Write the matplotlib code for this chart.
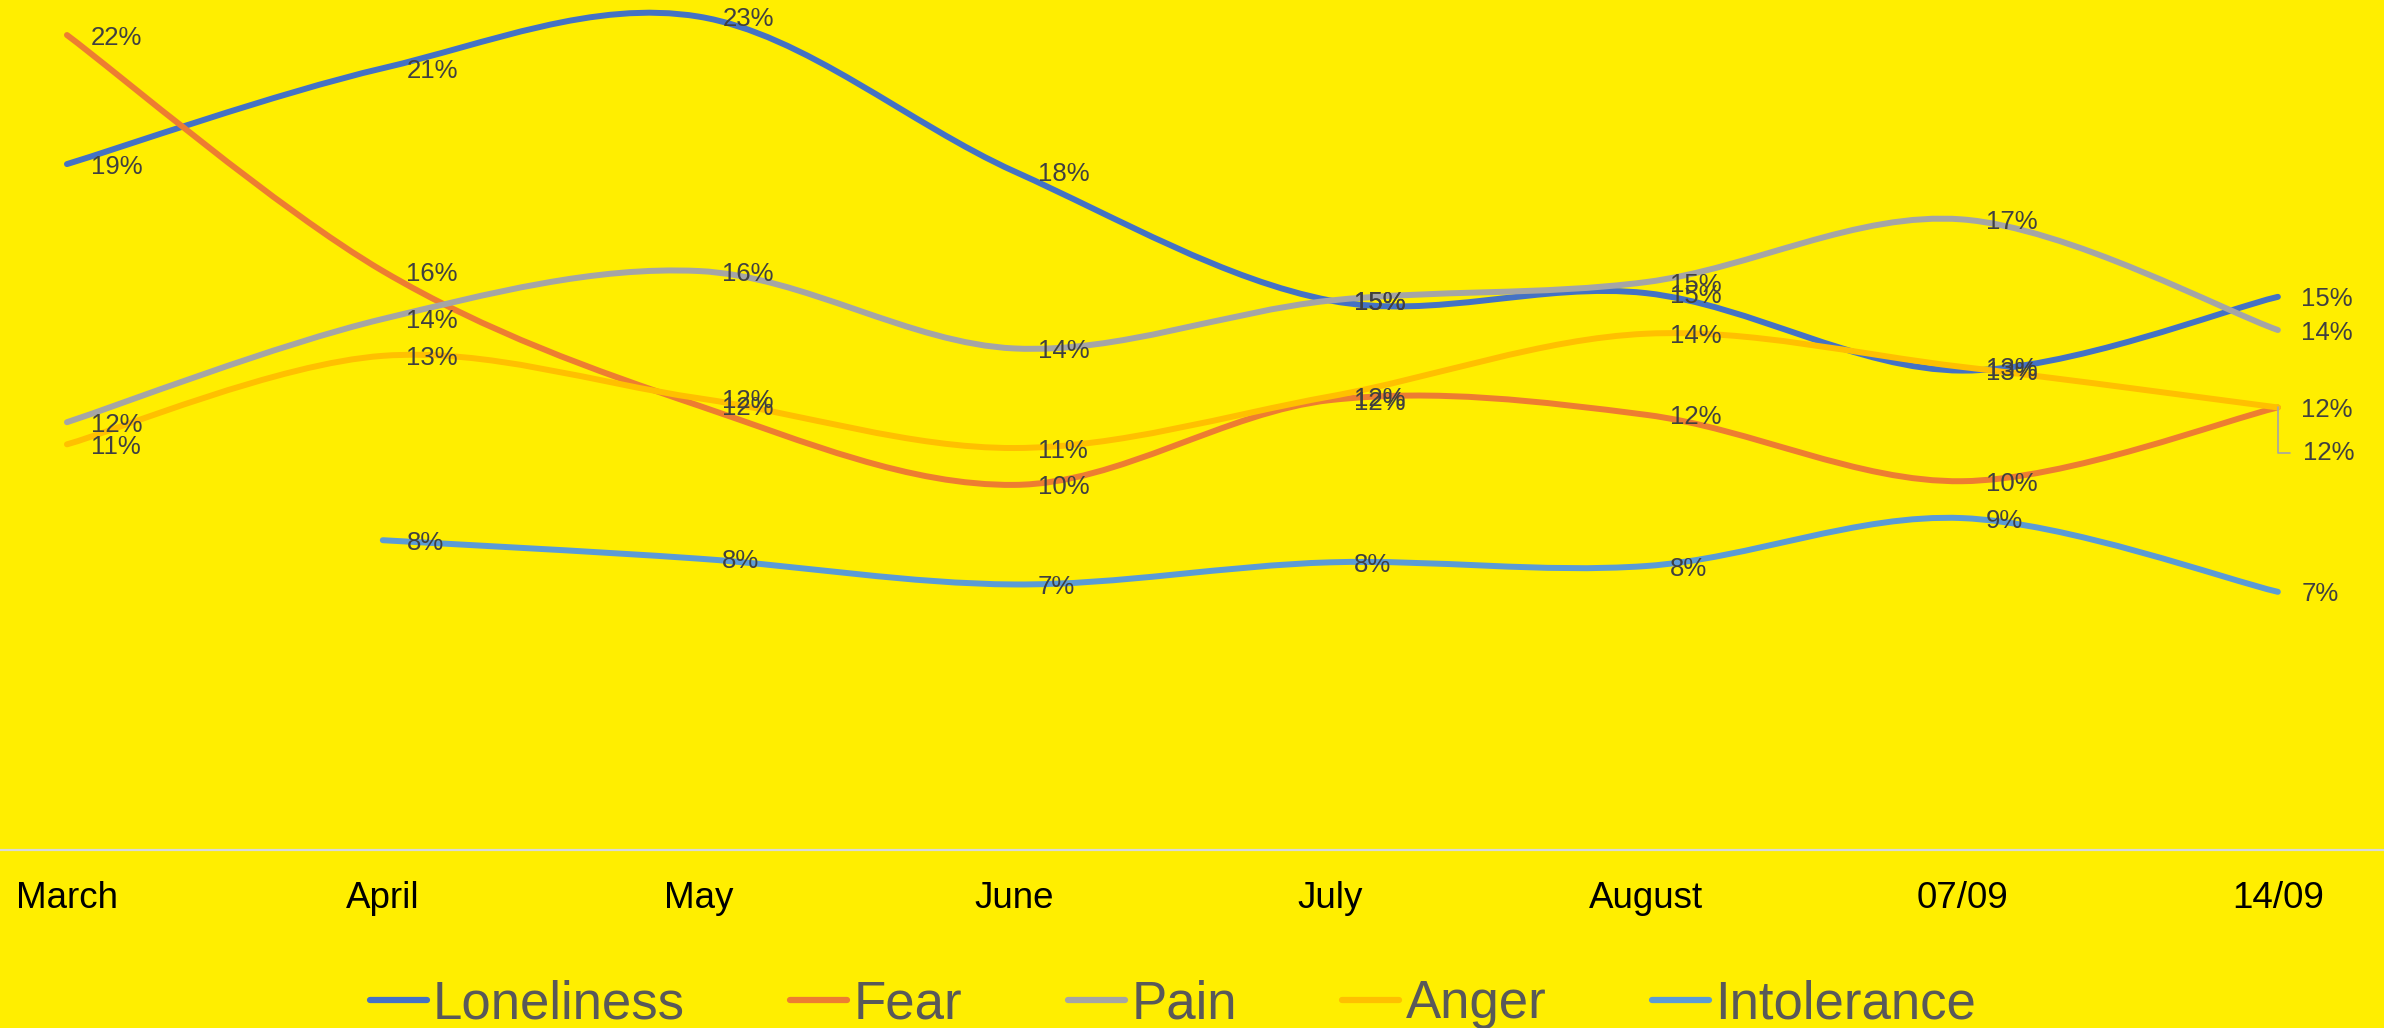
import numpy as np
import matplotlib
matplotlib.use("Agg")
import matplotlib.pyplot as plt
from matplotlib.path import Path
from matplotlib.patches import PathPatch
from matplotlib.lines import Line2D

plt.rcParams['font.family'] = ['Liberation Sans', 'DejaVu Sans']

# data (share of mentions, %)
months = ["March", "April", "May", "June", "July", "August", "07/09", "14/09"]
loneliness = [18.6, 21.2, 22.6, 18.4, 14.9, 15.1, 13.0, 15.0]
fear = [22.1, 15.7, 12.05, 9.9, 12.2, 11.8, 10.0, 12.0]
pain = [11.6, 14.4, 15.7, 13.6, 14.9, 15.4, 17.1, 14.1]
anger = [11.0, 13.4, 12.25, 10.9, 12.3, 14.0, 13.1, 12.0]
intolerance = [np.nan, 8.4, 7.9, 7.2, 7.8, 7.7, 9.0, 7.0]

names = ["Loneliness", "Fear", "Pain", "Anger", "Intolerance"]
series = [loneliness, fear, pain, anger, intolerance]
colors = ["#4472C4", "#ED7D31", "#A5A5A5", "#FFC000", "#5B9BD5"]

BG = "#FFEE00"
LABEL_COLOR = "#404040"


def smooth_path(xs, ys):
    """Excel-like smoothed line: cubic bezier through the points."""
    pts = [np.array([x, y]) for x, y in zip(xs, ys) if not np.isnan(y)]
    n = len(pts)
    verts = [pts[0]]
    codes = [Path.MOVETO]
    for i in range(n - 1):
        p0 = pts[i - 1] if i > 0 else pts[i]
        p1 = pts[i]
        p2 = pts[i + 1]
        p3 = pts[i + 2] if i + 2 < n else pts[i + 1]
        c1 = p1 + (p2 - p0) / 6.0
        c2 = p2 - (p3 - p1) / 6.0
        verts += [c1, c2, p2]
        codes += [Path.CURVE4] * 3
    return Path(verts, codes)


fig = plt.figure(figsize=(23.84, 10.28), dpi=100, facecolor=BG)
ax = fig.add_axes([0, 0.1732, 1, 0.8268])
ax.set_facecolor(BG)

x = np.arange(len(months))
for vals, name, col in zip(series, names, colors):
    patch = PathPatch(smooth_path(x, vals), fill=False, edgecolor=col,
                      lw=4.3, capstyle='round', joinstyle='round', clip_on=False)
    ax.add_patch(patch)

# data labels
for k, (vals, col) in enumerate(zip(series, colors)):
    for i, v in enumerate(vals):
        if np.isnan(v):
            continue
        txt = f"{round(v):d}%"
        if k == 1 and i == len(vals) - 1:
            # label pushed down with a leader line
            ax.annotate(txt, (i, v), xytext=(18, -31), textcoords='offset points',
                        ha='left', va='center_baseline', fontsize=18.5, color=LABEL_COLOR,
                        arrowprops=dict(arrowstyle='-', color='#A5A5A5', lw=1.2,
                                        connectionstyle='angle,angleA=0,angleB=90,rad=0',
                                        shrinkA=7, shrinkB=0, relpos=(0, 0.5)))
        else:
            ax.annotate(txt, (i, v), xytext=(17, 0), textcoords='offset points',
                        ha='left', va='center_baseline', fontsize=18.5, color=LABEL_COLOR)

ax.set_xlim(-0.212, 7.336)
ax.set_ylim(0, 23.05)
ax.set_xticks(x)
ax.set_xticklabels(months, fontsize=26.5, color='black')
ax.tick_params(axis='x', length=0, pad=22)
ax.set_yticks([])
for s in ['top', 'left', 'right']:
    ax.spines[s].set_visible(False)
ax.spines['bottom'].set_color('#D9D9D9')
ax.spines['bottom'].set_linewidth(1.6)

handles = [Line2D([0], [0], color=c, lw=4.5, solid_capstyle='round') for c in colors]
leg = fig.legend(handles, names, loc='center', bbox_to_anchor=(0.492, 0.0233), ncol=5,
                 frameon=False, fontsize=38, handlelength=1.08, handletextpad=0.12,
                 columnspacing=2.0, borderpad=0)
for t in leg.get_texts():
    t.set_color('#595959')

fig.savefig("out.png", dpi=100, facecolor=BG)
